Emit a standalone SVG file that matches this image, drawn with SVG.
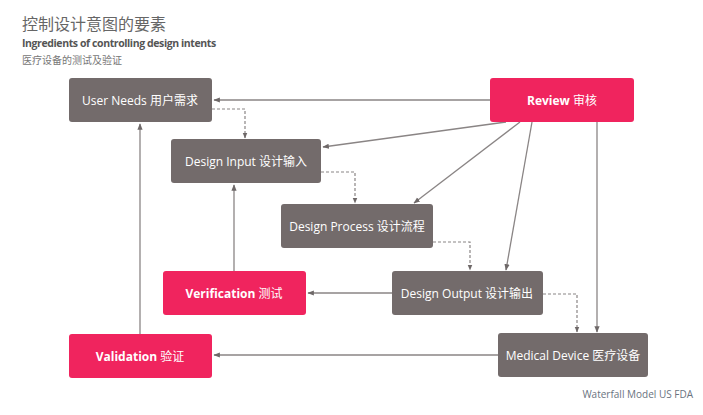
<svg xmlns="http://www.w3.org/2000/svg" width="703" height="415" viewBox="0 0 703 415">
<style>
.g{fill:#736b6b}.p{fill:#f0245e}
.t{font-family:"Open Sans","Noto Sans CJK SC",sans-serif;font-size:12px;fill:#fff;text-anchor:middle;dominant-baseline:central}
.b{font-weight:bold}
.c{stroke:#8a8585;stroke-width:1.3;fill:none;marker-end:url(#a)}
.d{stroke:#8a8585;stroke-width:1.2;fill:none;stroke-dasharray:3 2;marker-end:url(#a)}
</style>
<defs><marker id="a" viewBox="0 0 10 10" refX="9" refY="5" markerWidth="5" markerHeight="5" orient="auto"><path d="M0,1 L10,5 L0,9z" fill="#6e6868"/></marker></defs>
<rect width="703" height="415" fill="#fff"/>
<text x="22" y="30" font-family="'Noto Sans CJK SC',sans-serif" font-size="16" fill="#666">控制设计意图的要素</text>
<text x="22" y="47" font-family="'Open Sans',sans-serif" font-size="10.5" font-weight="bold" fill="#555" letter-spacing="-0.4">Ingredients of controlling design intents</text>
<text x="22" y="64" font-family="'Noto Sans CJK SC',sans-serif" font-size="10" fill="#777">医疗设备的测试及验证</text>
<text x="693" y="398" text-anchor="end" font-family="'Open Sans',sans-serif" font-size="10" fill="#6a7380">Waterfall Model US FDA</text>
<g id="connectors">
<path class="c" d="M490,100 H214"/>
<path class="d" d="M212,109 H245 V138"/>
<path class="c" d="M506,122 L323,147"/>
<path class="c" d="M520,122 L414,203"/>
<path class="c" d="M532,122 L506,270"/>
<path class="c" d="M597,122 V332"/>
<path class="d" d="M321,172 H355 V203"/>
<path class="d" d="M433,242 H470 V270"/>
<path class="d" d="M543,294 H577 V332"/>
<path class="c" d="M392,293 H308"/>
<path class="c" d="M234,271 V185"/>
<path class="c" d="M498,355 H214"/>
<path class="c" d="M140,334 V124"/>
</g>
<g id="user-needs"><rect class="g" x="69" y="78" width="143" height="44" rx="3"/><text class="t" x="140" y="100">User Needs 用户需求</text></g>
<g id="review"><rect class="p" x="490" y="78" width="144" height="44" rx="3"/><text class="t" x="562" y="100"><tspan class="b">Review</tspan> 审核</text></g>
<g id="design-input"><rect class="g" x="171" y="139" width="150" height="44" rx="3"/><text class="t" x="246" y="161">Design Input 设计输入</text></g>
<g id="design-process"><rect class="g" x="281" y="204" width="152" height="44" rx="3"/><text class="t" x="357" y="226">Design Process 设计流程</text></g>
<g id="verification"><rect class="p" x="163" y="271" width="143" height="44" rx="3"/><text class="t" x="234" y="293"><tspan class="b">Verification</tspan> 测试</text></g>
<g id="design-output"><rect class="g" x="392" y="271" width="151" height="44" rx="3"/><text class="t" x="467" y="293">Design Output 设计输出</text></g>
<g id="validation"><rect class="p" x="69" y="334" width="143" height="44" rx="3"/><text class="t" x="140" y="356"><tspan class="b">Validation</tspan> 验证</text></g>
<g id="medical-device"><rect class="g" x="498" y="333" width="150" height="44" rx="3"/><text class="t" x="573" y="355">Medical Device 医疗设备</text></g>
</svg>
